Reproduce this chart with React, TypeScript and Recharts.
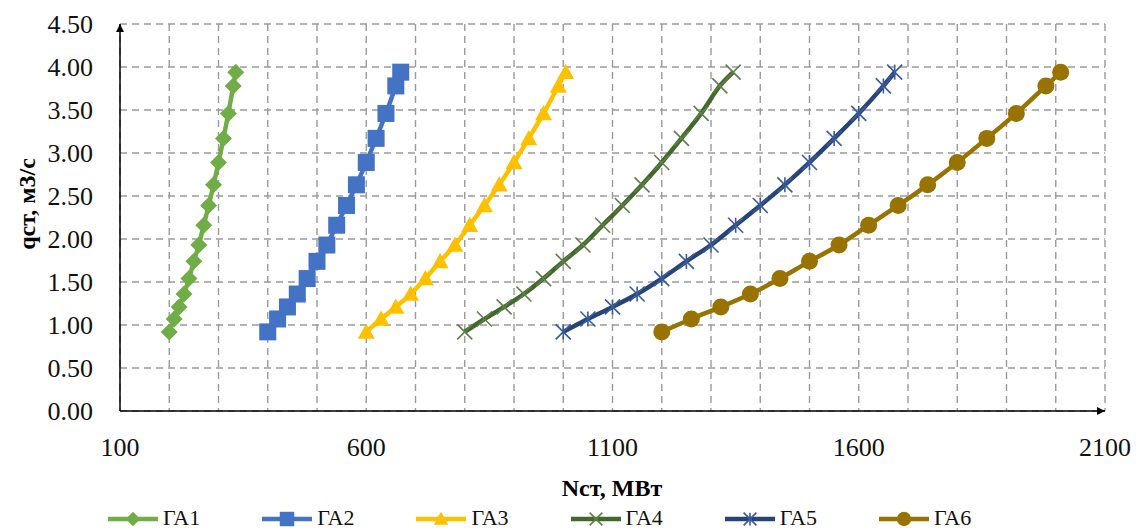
import React from "react";
import { LineChart, Line, XAxis, YAxis, CartesianGrid, Label } from "recharts";

// q values shared by all units (м3/с)
const qValues = [0.92, 1.07, 1.21, 1.36, 1.54, 1.74, 1.93, 2.16, 2.39, 2.63, 2.89, 3.17, 3.46, 3.78, 3.94];

// N values per unit (МВт)
const ga1N = [200, 210, 220, 230, 240, 250, 260, 270, 280, 290, 300, 310, 320, 330, 335];
const ga2N = [400, 420, 440, 460, 480, 500, 520, 540, 560, 580, 600, 620, 640, 660, 670];
const ga3N = [600, 630, 660, 690, 720, 750, 780, 810, 840, 870, 900, 930, 960, 990, 1005];
const ga4N = [800, 840, 880, 920, 960, 1000, 1040, 1080, 1120, 1160, 1200, 1240, 1280, 1318, 1345];
const ga5N = [1000, 1050, 1100, 1150, 1200, 1250, 1300, 1350, 1400, 1450, 1500, 1550, 1600, 1650, 1673];
const ga6N = [1200, 1260, 1320, 1380, 1440, 1500, 1560, 1620, 1680, 1740, 1800, 1860, 1920, 1980, 2010];

const seriesNames = ["ГА1", "ГА2", "ГА3", "ГА4", "ГА5", "ГА6"];

const xTicks = [100, 200, 300, 400, 500, 600, 700, 800, 900, 1000, 1100, 1200, 1300, 1400, 1500, 1600, 1700, 1800, 1900, 2000, 2100];
const xLabelTicks = [100, 600, 1100, 1600, 2100];
const yTicks = [0, 0.5, 1, 1.5, 2, 2.5, 3, 3.5, 4, 4.5];

const FONT = "'Liberation Serif', 'Times New Roman', serif";

const toPoints = (ns: number[]) => ns.map((n, i) => ({ n, q: qValues[i] }));

type Shape = "diamond" | "square" | "triangle" | "x" | "star" | "circle";

const series = [
  { name: seriesNames[0], data: toPoints(ga1N), color: "#70AD47", shape: "diamond" as Shape },
  { name: seriesNames[1], data: toPoints(ga2N), color: "#4472C4", shape: "square" as Shape },
  { name: seriesNames[2], data: toPoints(ga3N), color: "#FFC000", shape: "triangle" as Shape },
  { name: seriesNames[3], data: toPoints(ga4N), color: "#43682B", shape: "x" as Shape },
  { name: seriesNames[4], data: toPoints(ga5N), color: "#264478", shape: "star" as Shape },
  { name: seriesNames[5], data: toPoints(ga6N), color: "#997300", shape: "circle" as Shape },
];

function Marker({ cx, cy, shape, color, s = 1 }: { cx: number; cy: number; shape: Shape; color: string; s?: number }) {
  if (cx == null || cy == null) return null;
  switch (shape) {
    case "diamond": {
      const r = 8.5 * s;
      return <polygon points={`${cx},${cy - r} ${cx + r},${cy} ${cx},${cy + r} ${cx - r},${cy}`} fill={color} />;
    }
    case "square": {
      const r = 8.5 * s;
      return <rect x={cx - r} y={cy - r} width={2 * r} height={2 * r} fill={color} />;
    }
    case "triangle": {
      const r = 8.5 * s;
      return <polygon points={`${cx},${cy - r} ${cx + r},${cy + r * 0.8} ${cx - r},${cy + r * 0.8}`} fill={color} />;
    }
    case "x": {
      const r = 7.5 * s;
      return (
        <g stroke="#5f7f4a" strokeWidth={1.6}>
          <line x1={cx - r} y1={cy - r} x2={cx + r} y2={cy + r} />
          <line x1={cx - r} y1={cy + r} x2={cx + r} y2={cy - r} />
        </g>
      );
    }
    case "star": {
      const r = 7.5 * s;
      return (
        <g stroke="#3a5a9a" strokeWidth={1.6}>
          <line x1={cx - r} y1={cy - r} x2={cx + r} y2={cy + r} />
          <line x1={cx - r} y1={cy + r} x2={cx + r} y2={cy - r} />
          <line x1={cx} y1={cy - r} x2={cx} y2={cy + r} />
        </g>
      );
    }
    default:
      return <circle cx={cx} cy={cy} r={8.5 * s} fill={color} />;
  }
}

const fmtX = (v: number) => (xLabelTicks.includes(v) ? String(v) : "");

export default function App() {
  return (
    <div style={{ position: "absolute", left: 0, top: 0, width: 1138, height: 531, background: "#fff" }}>
      <svg width={0} height={0} style={{ position: "absolute" }}>
        <defs>
          <marker id="axArrow" viewBox="0 0 10 10" refX="10" refY="5" markerWidth="10" markerHeight="8" markerUnits="userSpaceOnUse" orient="auto-start-reverse">
            <path d="M0,0 L10,5 L0,10 z" fill="#000" />
          </marker>
        </defs>
      </svg>
      <LineChart width={1138} height={531} margin={{ top: 24, right: 33, left: 0, bottom: 0 }}>
        <CartesianGrid stroke="#9a9a9a" strokeDasharray="7 5" strokeWidth={1.4} />
        <XAxis
          type="number"
          dataKey="n"
          domain={[100, 2100]}
          ticks={xTicks}
          interval={0}
          tickFormatter={fmtX}
          tickLine={false}
          tickMargin={21}
          height={120}
          axisLine={{ stroke: "#000", strokeWidth: 1.5, markerEnd: "url(#axArrow)" }}
          tick={{ fill: "#111", fontSize: 26, fontFamily: FONT }}
        >
          <Label
            content={() => (
              <text x={612} y={496} textAnchor="middle" fontFamily={FONT} fontSize={24} fontWeight="bold" fill="#000">
                Nст, МВт
              </text>
            )}
          />
        </XAxis>
        <YAxis
          type="number"
          dataKey="q"
          domain={[0, 4.5]}
          ticks={yTicks}
          interval={0}
          tickFormatter={(v: number) => v.toFixed(2)}
          tickLine={false}
          tickMargin={21}
          width={120}
          axisLine={{ stroke: "#000", strokeWidth: 1.5, markerStart: "url(#axArrow)" }}
          tick={{ fill: "#111", fontSize: 26, fontFamily: FONT }}
        >
          <Label
            content={() => (
              <text x={35} y={204} transform="rotate(-90, 35, 204)" textAnchor="middle" fontFamily={FONT} fontSize={24} fontWeight="bold" fill="#000">
                qст, м3/с
              </text>
            )}
          />
        </YAxis>
        {series.map((s) => (
          <Line
            key={s.name}
            name={s.name}
            data={s.data}
            dataKey="q"
            type="monotone"
            stroke={s.color}
            strokeWidth={4.5}
            isAnimationActive={false}
            activeDot={false}
            dot={(p: any) => <Marker key={`${s.name}-${p.index}`} cx={p.cx} cy={p.cy} shape={s.shape} color={s.color} />}
          />
        ))}
      </LineChart>
      <div
        style={{
          position: "absolute",
          top: 504,
          left: 108,
          display: "flex",
          fontFamily: FONT,
          fontSize: 22,
          color: "#111",
          lineHeight: "28px",
        }}
      >
        {series.map((s) => (
          <div key={s.name} style={{ display: "flex", alignItems: "center", width: 154.2 }}>
            <svg width={52} height={28}>
              <line x1={0} y1={15} x2={50} y2={15} stroke={s.color} strokeWidth={4.5} />
              <Marker cx={25} cy={15} shape={s.shape} color={s.color} s={0.85} />
            </svg>
            <span style={{ marginLeft: 3 }}>{s.name}</span>
          </div>
        ))}
      </div>
    </div>
  );
}
